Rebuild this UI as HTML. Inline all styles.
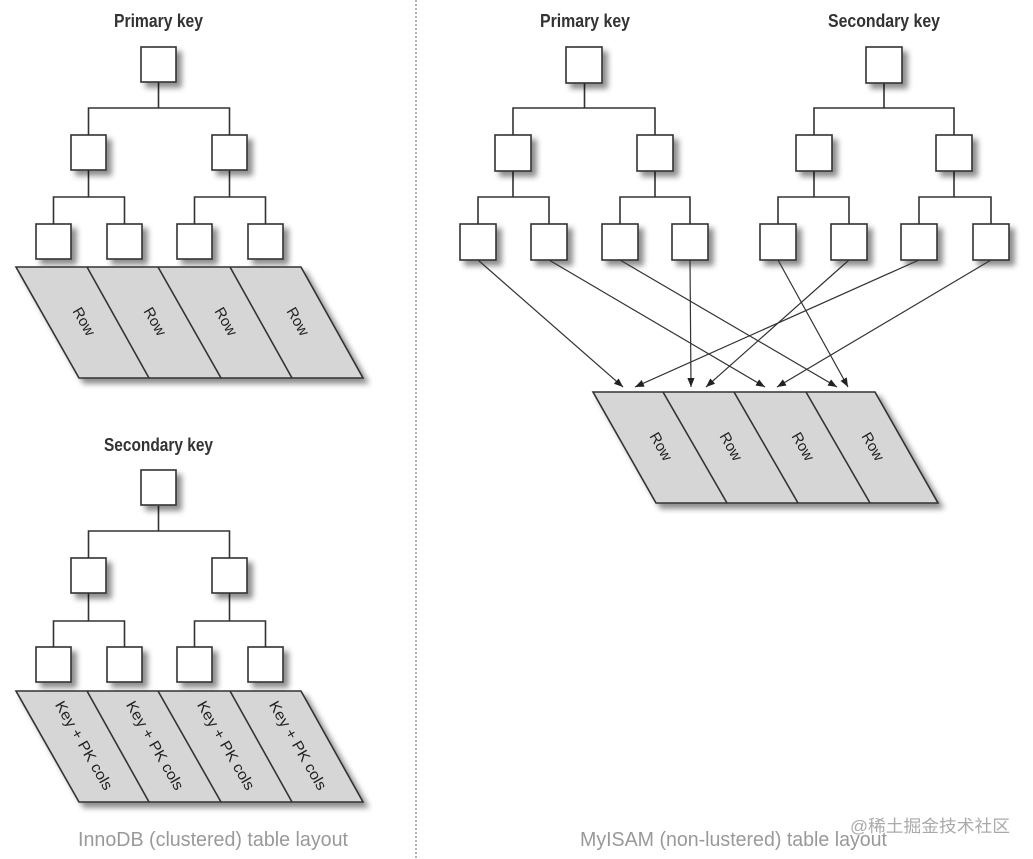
<!DOCTYPE html>
<html><head><meta charset="utf-8"><style>
html,body{margin:0;padding:0;background:#fff;}
svg{display:block;}
text{font-family:"Liberation Sans",sans-serif;}
</style></head><body>
<svg width="1033" height="859" viewBox="0 0 1033 859" xmlns="http://www.w3.org/2000/svg">
<defs>
<filter id="sh" x="-30%" y="-30%" width="170%" height="170%">
<feDropShadow dx="5" dy="5" stdDeviation="3" flood-color="#000" flood-opacity="0.45"/>
</filter>
<marker id="ar" viewBox="0 0 10 10" refX="10" refY="5" markerWidth="9" markerHeight="9" markerUnits="userSpaceOnUse" orient="auto">
<path d="M0,1 L10,5 L0,9 z" fill="#222"/>
</marker>
</defs>

<!-- divider -->
<line x1="416" y1="0" x2="416" y2="859" stroke="#999" stroke-width="1.5" stroke-dasharray="2,2"/>

<g stroke="#333" stroke-width="1.6" fill="none">
<!-- left primary tree connectors -->
<path d="M158.5 82V108M88.5 135V108H229.5V135M88.5 170V197M53.5 224V197H124.5V224M229.5 170V197M194.5 224V197H265.5V224"/>
<!-- left secondary -->
<path d="M158.5 506V531M88.5 558V531H229.5V558M88.5 593V621M53.5 647V621H124.5V647M229.5 593V621M194.5 647V621H265.5V647"/>
<!-- right primary -->
<path d="M584.5 83V108M513 135V108H655V135M513 171V197M478 224V197H549V224M655 171V197M620 224V197H690V224"/>
<!-- right secondary -->
<path d="M884 83V108M814 135V108H954V135M814 171V197M778 224V197H849V224M954 171V197M919 224V197H991V224"/>
</g>

<!-- boxes -->
<g fill="#fff" stroke="#333" stroke-width="1.6" filter="url(#sh)">
<rect x="141" y="47" width="35" height="35"/>
<rect x="71" y="135" width="35" height="35"/><rect x="212" y="135" width="35" height="35"/>
<rect x="36" y="224" width="35" height="35"/><rect x="107" y="224" width="35" height="35"/><rect x="177" y="224" width="35" height="35"/><rect x="248" y="224" width="35" height="35"/>

<rect x="141" y="470" width="35" height="35"/>
<rect x="71" y="558" width="35" height="35"/><rect x="212" y="558" width="35" height="35"/>
<rect x="36" y="647" width="35" height="35"/><rect x="107" y="647" width="35" height="35"/><rect x="177" y="647" width="35" height="35"/><rect x="248" y="647" width="35" height="35"/>

<rect x="566" y="47" width="36" height="36"/>
<rect x="495" y="135" width="36" height="36"/><rect x="637" y="135" width="36" height="36"/>
<rect x="460" y="224" width="36" height="36"/><rect x="531" y="224" width="36" height="36"/><rect x="602" y="224" width="36" height="36"/><rect x="672" y="224" width="36" height="36"/>

<rect x="866" y="47" width="36" height="36"/>
<rect x="796" y="135" width="36" height="36"/><rect x="936" y="135" width="36" height="36"/>
<rect x="760" y="224" width="36" height="36"/><rect x="831" y="224" width="36" height="36"/><rect x="901" y="224" width="36" height="36"/><rect x="973" y="224" width="36" height="36"/>
</g>

<!-- parallelograms -->
<g fill="#d6d6d6" stroke="#333" stroke-width="1.6" filter="url(#sh)">
<polygon points="16,267 301,267 363,378 79,378"/>
<polygon points="16,691 301,691 363,802 79,802"/>
<polygon points="593,392 875,392 938,503 656,503"/>
</g>
<g stroke="#333" stroke-width="1.6">
<line x1="87" y1="267" x2="149" y2="378"/><line x1="158" y1="267" x2="221" y2="378"/><line x1="230" y1="267" x2="292" y2="378"/>
<line x1="87" y1="691" x2="149" y2="802"/><line x1="158" y1="691" x2="221" y2="802"/><line x1="230" y1="691" x2="292" y2="802"/>
<line x1="663" y1="392" x2="727" y2="503"/><line x1="734" y1="392" x2="798" y2="503"/><line x1="806" y1="392" x2="870" y2="503"/>
</g>

<!-- arrows -->
<g stroke="#333" stroke-width="1.2" marker-end="url(#ar)">
<line x1="478" y1="260" x2="623" y2="387"/>
<line x1="549" y1="260" x2="765" y2="387"/>
<line x1="620" y1="260" x2="837" y2="387"/>
<line x1="690" y1="260" x2="691" y2="387"/>
<line x1="778" y1="260" x2="848" y2="387"/>
<line x1="849" y1="260" x2="706" y2="387"/>
<line x1="919" y1="260" x2="635" y2="387"/>
<line x1="991" y1="260" x2="777" y2="387"/>
</g>

<!-- cell labels -->
<g font-size="15" fill="#222" text-anchor="middle" dominant-baseline="middle">
<text transform="translate(83,322) rotate(60)">Row</text>
<text transform="translate(154,322) rotate(60)">Row</text>
<text transform="translate(225,322) rotate(60)">Row</text>
<text transform="translate(297,322) rotate(60)">Row</text>
<text transform="translate(660,447) rotate(60)">Row</text>
<text transform="translate(730,447) rotate(60)">Row</text>
<text transform="translate(802,447) rotate(60)">Row</text>
<text transform="translate(872,447) rotate(60)">Row</text>
<text transform="translate(83,746) rotate(60)" textLength="100" lengthAdjust="spacingAndGlyphs">Key + PK cols</text>
<text transform="translate(154,746) rotate(60)" textLength="100" lengthAdjust="spacingAndGlyphs">Key + PK cols</text>
<text transform="translate(225,746) rotate(60)" textLength="100" lengthAdjust="spacingAndGlyphs">Key + PK cols</text>
<text transform="translate(297,746) rotate(60)" textLength="100" lengthAdjust="spacingAndGlyphs">Key + PK cols</text>
</g>

<!-- titles -->
<g font-size="18" font-weight="bold" fill="#333">
<text x="114" y="27" textLength="89" lengthAdjust="spacingAndGlyphs">Primary key</text>
<text x="104" y="451" textLength="109" lengthAdjust="spacingAndGlyphs">Secondary key</text>
<text x="540" y="27" textLength="90" lengthAdjust="spacingAndGlyphs">Primary key</text>
<text x="828" y="27" textLength="112" lengthAdjust="spacingAndGlyphs">Secondary key</text>
</g>
<g font-size="20" fill="#999">
<text x="78" y="846" textLength="270" lengthAdjust="spacingAndGlyphs">InnoDB (clustered) table layout</text>
<text x="580" y="846" textLength="307" lengthAdjust="spacingAndGlyphs">MyISAM (non-lustered) table layout</text>
</g>
<text x="850" y="832" font-size="17" fill="#aaa" style="font-family:'Liberation Sans','Noto Sans CJK SC',sans-serif" textLength="160" lengthAdjust="spacingAndGlyphs">@稀土掘金技术社区</text>
</svg>
</body></html>
